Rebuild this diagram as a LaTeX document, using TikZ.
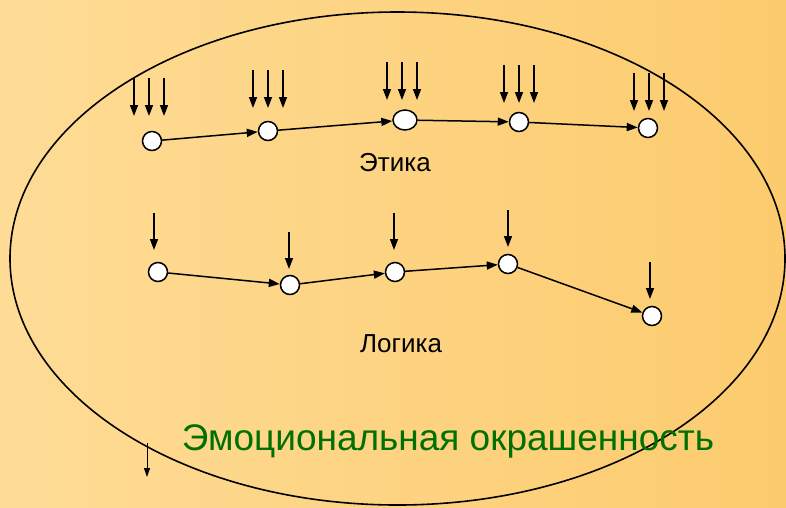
\documentclass[tikz,border=0pt]{standalone}
\usepackage{fontspec}
\setmainfont{Liberation Sans}
\usepackage{tikz}
\usetikzlibrary{arrows.meta,shapes.geometric}
\definecolor{paleleft}{HTML}{FEDC96}
\definecolor{paleright}{HTML}{FCCB6E}
\definecolor{emogreen}{RGB}{0,112,0}

\begin{document}
\begin{tikzpicture}[
   x=1pt,y=-1pt,
   vtx/.style ={circle,draw=black,fill=white,line width=1.5pt,minimum size=19pt,inner sep=0pt},
   vtxw/.style={ellipse,draw=black,fill=white,line width=1.5pt,minimum width=24pt,minimum height=20pt,inner sep=0pt},
   fl/.style  ={-{Triangle[length=11pt,width=8pt]},line width=1.5pt},
   inp/.style ={-{Triangle[length=11pt,width=8pt]},line width=1.5pt},
   inps/.style={-{Triangle[length=9pt,width=6pt]},line width=1pt},
   lbl/.style ={font=\fontsize{26}{30}\selectfont,inner sep=0pt}
  ]
  % background
  \shade[left color=paleleft,right color=paleright] (0,0) rectangle (786,507);
  \useasboundingbox (0,0) rectangle (786,507);

  % outer ellipse
  \draw[line width=1.6pt] (397.5,258.5) ellipse [x radius=387.5, y radius=246.5];

  % ethics chain
  \node[vtx]  (e1) at (152,141) {};
  \node[vtx]  (e2) at (268,131) {};
  \node[vtxw] (e3) at (405,120) {};
  \node[vtx]  (e4) at (519,122) {};
  \node[vtx]  (e5) at (648,128) {};
  \node[lbl]  (eth) at (395,163) {Этика};

  \draw[fl] (e1) -- (e2);
  \draw[fl] (e2) -- (e3);
  \draw[fl] (e3) -- (e4);
  \draw[fl] (e4) -- (e5);

  \foreach \i/\x/\y in {1/134/78,2/253/70,3/387/62,4/504/65,5/634/73}
    \foreach \k in {0,1,2}
      \draw[inp] (\x+15*\k,\y) coordinate (ea\i\k) -- ++(0,38) coordinate (eb\i\k);

  % logic chain
  \node[vtx] (l1) at (158,272) {};
  \node[vtx] (l2) at (290,285) {};
  \node[vtx] (l3) at (395,272) {};
  \node[vtx] (l4) at (508,264) {};
  \node[vtx] (l5) at (652,316) {};
  \node[lbl] (log) at (401,344) {Логика};

  \draw[fl] (l1) -- (l2);
  \draw[fl] (l2) -- (l3);
  \draw[fl] (l3) -- (l4);
  \draw[fl] (l4) -- (l5);

  \foreach \i/\x/\y in {1/154/213,2/289/232,3/394/213,4/508/210,5/650/262}
    \draw[inp] (\x,\y) coordinate (la\i) -- ++(0,37) coordinate (lb\i);

  % emotional colouring
  \node[lbl,font=\fontsize{37}{42}\selectfont,text=emogreen] (emo) at (448,441) {Эмоциональная окрашенность};
  \coordinate (s1) at (147,443);
  \coordinate (s2) at (147,477);
  \draw[inps] (s1) -- (s2);
\end{tikzpicture}
\end{document}
